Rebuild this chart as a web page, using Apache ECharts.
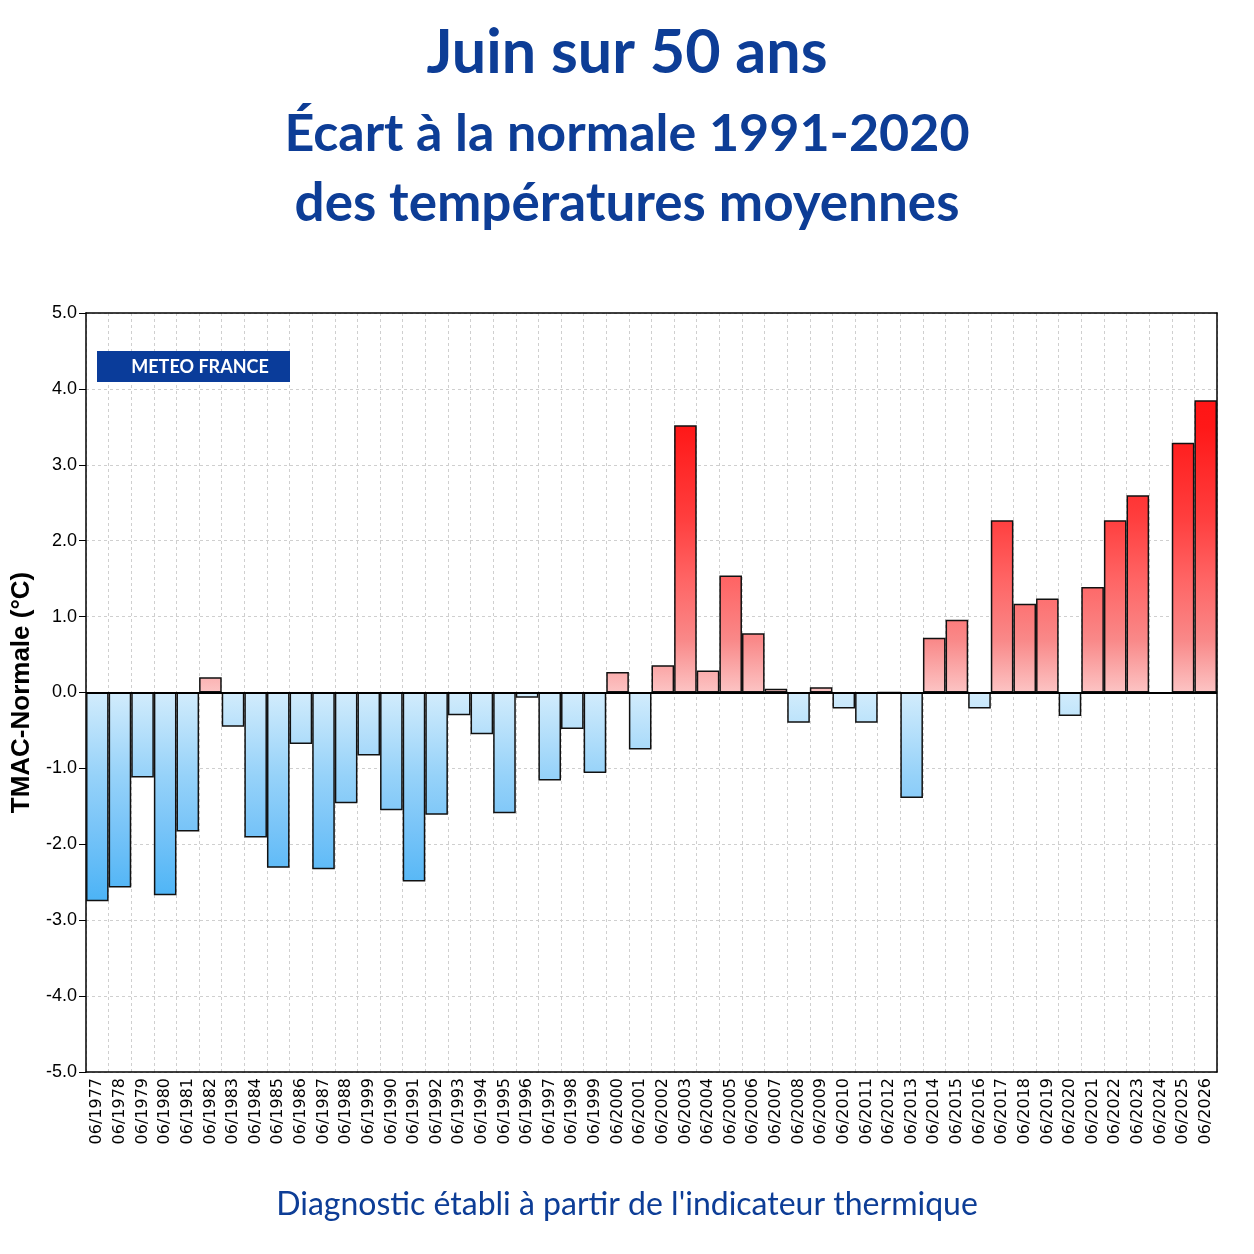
<!DOCTYPE html>
<html lang="fr">
<head>
    <meta charset="UTF-8">
    <title>Juin sur 50 ans</title>
    <script src="https://cdn.jsdelivr.net/npm/echarts@6/dist/echarts.min.js"></script>
    <style>
        * { margin: 0; padding: 0 }
        html, body { width: 100%; height: 100%; background: #fff }
        #main { width: 1254px; height: 1254px }
    </style>
</head>
<body>
    <div id="main"></div>
    <script type="text/javascript">
        // libellés tels qu'ils figurent sur le graphique (06/1999 apparaît deux fois)
        var mois = ['06/1977', '06/1978', '06/1979', '06/1980', '06/1981', '06/1982', '06/1983', '06/1984',
            '06/1985', '06/1986', '06/1987', '06/1988', '06/1999', '06/1990', '06/1991', '06/1992',
            '06/1993', '06/1994', '06/1995', '06/1996', '06/1997', '06/1998', '06/1999', '06/2000',
            '06/2001', '06/2002', '06/2003', '06/2004', '06/2005', '06/2006', '06/2007', '06/2008',
            '06/2009', '06/2010', '06/2011', '06/2012', '06/2013', '06/2014', '06/2015', '06/2016',
            '06/2017', '06/2018', '06/2019', '06/2020', '06/2021', '06/2022', '06/2023', '06/2024',
            '06/2025', '06/2026'];
        var ecarts = [-2.75, -2.57, -1.12, -2.67, -1.83, 0.20, -0.45, -1.91,
            -2.31, -0.68, -2.33, -1.46, -0.83, -1.55, -2.49, -1.61,
            -0.30, -0.55, -1.59, -0.07, -1.16, -0.48, -1.06, 0.27,
            -0.75, 0.36, 3.52, 0.29, 1.54, 0.78, 0.05, -0.40,
            0.07, -0.21, -0.40, 0.00, -1.39, 0.72, 0.96, -0.21,
            2.27, 1.17, 1.24, -0.31, 1.39, 2.27, 2.60, -0.02,
            3.29, 3.85];
        var yTicks = [-5, -4, -3, -2, -1, 0, 1, 2, 3, 4, 5];

        // échelles de couleur : [écart absolu, r, g, b]
        var echelleChaud = [[0, 252, 196, 196], [0.7, 249, 136, 136], [1.5, 255, 100, 100], [2.3, 255, 62, 62], [3.5, 255, 24, 24], [5, 255, 10, 10]];
        var echelleFroid = [[0, 210, 236, 252], [1.1, 150, 210, 249], [1.8, 120, 196, 248], [2.7, 78, 180, 246], [5, 50, 160, 240]];

        function couleur(echelle, v) {
            for (var i = 1; i < echelle.length; i++) {
                if (v <= echelle[i][0]) {
                    var a = echelle[i - 1], b = echelle[i];
                    var t = (v - a[0]) / (b[0] - a[0]);
                    return 'rgb(' + Math.round(a[1] + t * (b[1] - a[1])) + ',' +
                        Math.round(a[2] + t * (b[2] - a[2])) + ',' +
                        Math.round(a[3] + t * (b[3] - a[3])) + ')';
                }
            }
            var l = echelle[echelle.length - 1];
            return 'rgb(' + l[1] + ',' + l[2] + ',' + l[3] + ')';
        }

        // dégradé vertical dont la teinte dépend de l'écart absolu
        function degrade(v) {
            var a = Math.abs(v);
            var echelle = v >= 0 ? echelleChaud : echelleFroid;
            if (a < 0.001) return couleur(echelle, 0);
            var stops = [];
            echelle.forEach(function (s) {
                if (s[0] < a) stops.push({ offset: s[0] / a, color: couleur(echelle, s[0]) });
            });
            stops.push({ offset: 1, color: couleur(echelle, a) });
            if (v >= 0) {
                stops = stops.map(function (s) { return { offset: 1 - s.offset, color: s.color }; }).reverse();
            }
            return new echarts.graphic.LinearGradient(0, 0, 0, 1, stops);
        }

        var myChart = echarts.init(document.getElementById('main'));
        var bleu = '#0d3d96';
        var cadre = { show: true, onZero: false, lineStyle: { color: '#000', width: 1.5 } };
        var option = {
            backgroundColor: '#fff',
            animation: false,
            grid: { left: 86, right: 37, top: 313, bottom: 182 },
            graphic: [
                { type: 'text', left: 'center', top: 23, style: { text: 'Juin sur 50 ans', fill: bleu, font: 'bold 61px Lato' } },
                { type: 'text', left: 'center', top: 108, style: { text: 'Écart à la normale 1991-2020', fill: bleu, font: 'bold 52px Lato' } },
                { type: 'text', left: 'center', top: 177, style: { text: 'des températures moyennes', fill: bleu, font: 'bold 53px Lato' } },
                { type: 'text', left: 'center', top: 1189, style: { text: "Diagnostic établi à partir de l'indicateur thermique", fill: bleu, font: '32px Lato' } },
                {
                    type: 'group', left: 97, top: 351, z: 100, children: [
                        { type: 'rect', z: 100, shape: { x: 0, y: 0, width: 193, height: 31 }, style: { fill: '#0a3c9a' } },
                        { type: 'text', z: 101, style: { x: 103, y: 16, text: 'METEO FRANCE', fill: '#fff', font: 'bold 18px Lato', align: 'center', verticalAlign: 'middle' } }
                    ]
                }
            ],
            xAxis: [{
                type: 'category',
                data: mois,
                boundaryGap: true,
                axisLine: { onZero: false, lineStyle: { color: '#000', width: 1.5 } },
                axisTick: { show: false },
                axisLabel: {
                    rotate: 90, interval: 0, margin: 6,
                    fontFamily: 'DejaVu Sans', fontSize: 16, color: '#000'
                },
                splitLine: { show: true, interval: 0, lineStyle: { color: '#cfcfcf', type: [3, 3], width: 1 } }
            }, {
                // bord supérieur du cadre
                type: 'category', data: mois, position: 'top',
                axisLine: cadre, axisTick: { show: false }, axisLabel: { show: false }, splitLine: { show: false }
            }],
            yAxis: [{
                type: 'value',
                min: yTicks[0], max: yTicks[yTicks.length - 1], interval: 1,
                name: 'TMAC-Normale (°C)',
                nameLocation: 'middle', nameGap: 44, nameRotate: 90,
                nameTextStyle: { fontFamily: 'Liberation Sans', fontWeight: 'bold', fontSize: 26, color: '#000' },
                axisLine: { show: true, onZero: false, lineStyle: { color: '#000', width: 1.5 } },
                axisTick: { show: true, length: 7, lineStyle: { color: '#000' } },
                axisLabel: {
                    fontFamily: 'Liberation Sans', fontSize: 18, color: '#000', margin: 9,
                    formatter: function (v) { return v.toFixed(1); }
                },
                splitLine: { show: true, lineStyle: { color: '#cfcfcf', type: [3, 3], width: 1 } }
            }, {
                // bord droit du cadre
                type: 'value', position: 'right',
                min: yTicks[0], max: yTicks[yTicks.length - 1], interval: 1,
                axisLine: cadre, axisTick: { show: false }, axisLabel: { show: false }, splitLine: { show: false }
            }],
            series: [{
                type: 'bar',
                data: ecarts.map(function (v) {
                    return { value: v, itemStyle: { color: degrade(v) } };
                }),
                barCategoryGap: '0%',
                itemStyle: { borderColor: '#111', borderWidth: 1.5 },
                markLine: {
                    silent: true, symbol: 'none', label: { show: false },
                    lineStyle: { color: '#000', width: 2, type: 'solid' },
                    data: [{ yAxis: 0 }]
                }
            }]
        };
        myChart.setOption(option);
    </script>
</body>
</html>
